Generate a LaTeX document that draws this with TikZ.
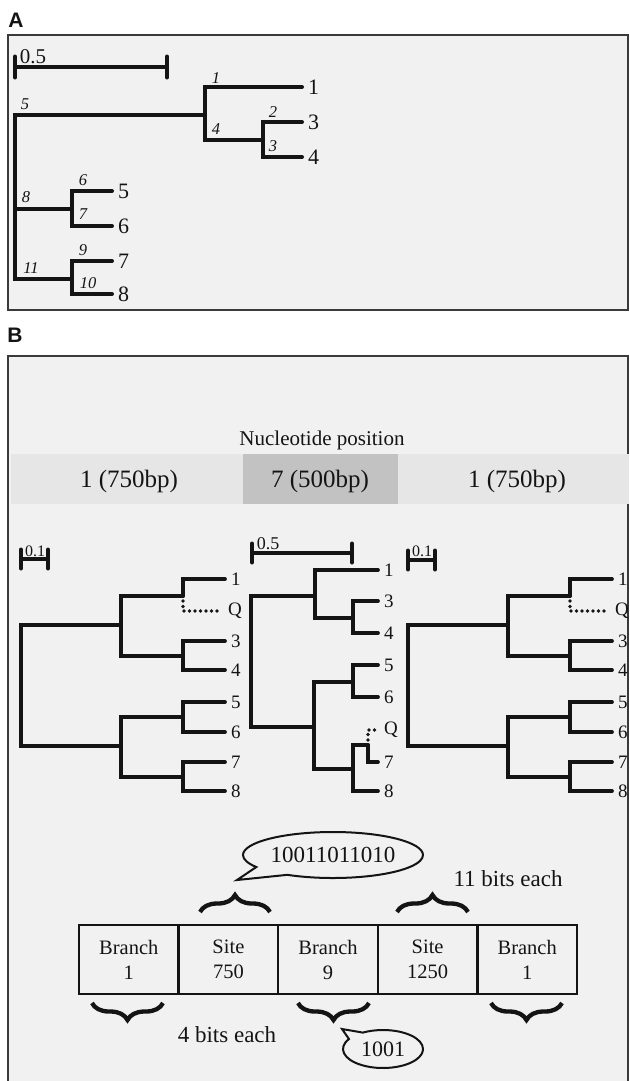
\documentclass[tikz,border=0pt]{standalone}
\usepackage{fontspec}
\setmainfont{Liberation Serif}
\newfontfamily\labsans{Liberation Sans}
\usetikzlibrary{shapes.callouts,shapes.geometric,decorations.pathreplacing}
\definecolor{bgc}{HTML}{F1F1F1}
\definecolor{frc}{HTML}{3A3A3A}
\definecolor{bandl}{HTML}{E6E6E6}
\definecolor{bandd}{HTML}{C2C2C2}
\definecolor{ink}{HTML}{141414}
\tikzset{
  frame/.style={fill=bgc, draw=frc, line width=2pt},
  tra/.style={draw=ink, line width=4pt, line cap=round, line join=miter},
  trb/.style={draw=ink, line width=3.7pt, line cap=round, line join=miter},
  dotq/.style={draw=ink, line width=3.7pt, line cap=round, dash pattern=on 0pt off 5.5pt},
  tick/.style={draw=ink, line width=4pt, line cap=round},
  leafA/.style={anchor=west, inner sep=0pt, text=ink, font=\fontsize{22}{22}\selectfont},
  leafB/.style={anchor=west, inner sep=0pt, text=ink, font=\fontsize{19}{19}\selectfont},
  brl/.style={inner sep=0pt, text=ink, font=\fontsize{16.5}{16.5}\selectfont\itshape},
  panel/.style={inner sep=0pt, text=ink, font=\labsans\bfseries\fontsize{21}{21}\selectfont},
  band/.style={inner sep=0pt, text=ink, font=\fontsize{25}{25}\selectfont},
  cell/.style={draw=ink, line width=2.5pt, minimum width=99.6pt, minimum height=69pt, inner sep=0pt, align=center, text=ink, font=\fontsize{20.5}{25}\selectfont},
  bigtxt/.style={inner sep=0pt, text=ink, font=\fontsize{23}{23}\selectfont},
  brc/.style={draw=ink, line width=4.3pt, decorate, decoration={brace, amplitude=17pt}},
  bubble/.style={ellipse callout, draw=ink, line width=2pt, fill=bgc, inner sep=1pt, text=ink, font=\fontsize{23}{23}\selectfont}
}
\newcommand\tleaf[4]{\coordinate (#1) at (#2); \node[#3] (#1l) at ([xshift=6pt]#1) {#4};}
\begin{document}
\begin{tikzpicture}[x=1pt,y=-1pt]
\useasboundingbox (0,0) rectangle (629,1081);
\clip (0,0) rectangle (629,1081);
\fill[white] (0,0) rectangle (629,1081);
% frames
\draw[frame] (8,35) rectangle (628,310);
\draw[frame] (8,356) rectangle (628,1090);
\node[panel] (pA) at (16,20) {A};
\node[panel] (pB) at (15,335) {B};

% ---------------- Panel A ----------------
\coordinate (sA1) at (15,67); \coordinate (sA2) at (167,67);
\draw[tra] (sA1) -- (sA2);
\draw[tick] ([yshift=10.5pt]sA1) -- ([yshift=-10.5pt]sA1);
\draw[tick] ([yshift=10.5pt]sA2) -- ([yshift=-10.5pt]sA2);
\node[inner sep=0pt, text=ink, font=\fontsize{21}{21}\selectfont] (sAl) at (33,57) {0.5};

\coordinate (Ar) at (15,209);
\coordinate (An1) at (205,115);
\coordinate (An2) at (263,140);
\coordinate (An3) at (72,209);
\coordinate (An4) at (72,279);
\tleaf{a1}{302,87}{leafA}{1}
\tleaf{a3}{302,122}{leafA}{3}
\tleaf{a4}{302,157}{leafA}{4}
\tleaf{a5}{112,191}{leafA}{5}
\tleaf{a6}{112,226}{leafA}{6}
\tleaf{a7}{112,261}{leafA}{7}
\tleaf{a8}{112,294}{leafA}{8}
\draw[tra] (Ar) |- (An1);
\draw[tra] (Ar) |- (An3);
\draw[tra] (Ar) |- (An4);
\draw[tra] (An1) |- (a1);
\draw[tra] (An1) |- (An2);
\draw[tra] (An2) |- (a3);
\draw[tra] (An2) |- (a4);
\draw[tra] (An3) |- (a5);
\draw[tra] (An3) |- (a6);
\draw[tra] (An4) |- (a7);
\draw[tra] (An4) |- (a8);
% branch numbers
\node[brl] (b1) at (216,78) {1};
\node[brl] (b5) at (25,104) {5};
\node[brl] (b4) at (216,129) {4};
\node[brl] (b2) at (273,112) {2};
\node[brl] (b3) at (273,146) {3};
\node[brl] (b6) at (83,180) {6};
\node[brl] (b8) at (26,197) {8};
\node[brl] (b7) at (83,214) {7};
\node[brl] (b9) at (83,250) {9};
\node[brl] (b11) at (31,268) {11};
\node[brl] (b10) at (88,283) {10};

% ---------------- Panel B ----------------
\node[inner sep=0pt, text=ink, font=\fontsize{21}{21}\selectfont] (np) at (322,440) {Nucleotide position};
\fill[bandl] (11,454) rectangle (629,504);
\fill[bandd] (243,454) rectangle (398,504);
\node[band] (s1) at (129,481) {1 (750bp)};
\node[band] (s2) at (320,481) {7 (500bp)};
\node[band] (s3) at (517,481) {1 (750bp)};

% scale bars
\coordinate (sL1) at (21,559); \coordinate (sL2) at (48,559);
\draw[trb] (sL1) -- (sL2);
\draw[tick] ([yshift=9.5pt]sL1) -- ([yshift=-9.5pt]sL1);
\draw[tick] ([yshift=9.5pt]sL2) -- ([yshift=-9.5pt]sL2);
\node[inner sep=0pt, text=ink, font=\fontsize{16}{16}\selectfont] (sLl) at (35,551) {0.1};
\coordinate (sM1) at (252,553); \coordinate (sM2) at (352,553);
\draw[trb] (sM1) -- (sM2);
\draw[tick] ([yshift=9.5pt]sM1) -- ([yshift=-9.5pt]sM1);
\draw[tick] ([yshift=9.5pt]sM2) -- ([yshift=-9.5pt]sM2);
\node[inner sep=0pt, text=ink, font=\fontsize{18}{18}\selectfont] (sMl) at (268,544) {0.5};
\coordinate (sR1) at (408,560); \coordinate (sR2) at (435,560);
\draw[trb] (sR1) -- (sR2);
\draw[tick] ([yshift=9.5pt]sR1) -- ([yshift=-9.5pt]sR1);
\draw[tick] ([yshift=9.5pt]sR2) -- ([yshift=-9.5pt]sR2);
\node[inner sep=0pt, text=ink, font=\fontsize{16}{16}\selectfont] (sRl) at (422,551) {0.1};

% left tree
\coordinate (Lr) at (21,685);
\coordinate (Ln1) at (121,625);
\coordinate (Ln2) at (183,596);
\coordinate (Ln3) at (183,656);
\coordinate (Ln5) at (121,746);
\coordinate (Ln6) at (183,717);
\coordinate (Ln7) at (183,777);
\tleaf{l1}{225,579}{leafB}{1}
\tleaf{lq}{222,611}{leafB}{Q}
\tleaf{l3}{225,641}{leafB}{3}
\tleaf{l4}{225,670}{leafB}{4}
\tleaf{l5}{225,702}{leafB}{5}
\tleaf{l6}{225,732}{leafB}{6}
\tleaf{l7}{225,762}{leafB}{7}
\tleaf{l8}{225,791}{leafB}{8}
\draw[trb] (Lr) |- (Ln1);
\draw[trb] (Lr) |- (Ln5);
\draw[trb] (Ln1) |- (Ln2);
\draw[trb] (Ln1) |- (Ln3);
\draw[trb] (Ln2) |- (l1);
\draw[dotq] ([yshift=-5pt]Ln2) |- (lq);
\draw[trb] (Ln3) |- (l3);
\draw[trb] (Ln3) |- (l4);
\draw[trb] (Ln5) |- (Ln6);
\draw[trb] (Ln5) |- (Ln7);
\draw[trb] (Ln6) |- (l5);
\draw[trb] (Ln6) |- (l6);
\draw[trb] (Ln7) |- (l7);
\draw[trb] (Ln7) |- (l8);

% middle tree
\coordinate (Mr) at (251,661);
\coordinate (Mn1) at (315,596);
\coordinate (Mn2) at (353,618);
\coordinate (Mn4) at (314,727);
\coordinate (Mn5) at (353,682);
\coordinate (Mn6) at (353,769);
\coordinate (Mn7) at (368,745);
\tleaf{m1}{378,570}{leafB}{1}
\tleaf{m3}{378,601}{leafB}{3}
\tleaf{m4}{378,633}{leafB}{4}
\tleaf{m5}{378,665}{leafB}{5}
\tleaf{m6}{378,697}{leafB}{6}
\tleaf{mq}{378,730}{leafB}{Q}
\tleaf{m7}{378,762}{leafB}{7}
\tleaf{m8}{378,791}{leafB}{8}
\draw[trb] (Mr) |- (Mn1);
\draw[trb] (Mr) |- (Mn4);
\draw[trb] (Mn1) |- (m1);
\draw[trb] (Mn1) |- (Mn2);
\draw[trb] (Mn2) |- (m3);
\draw[trb] (Mn2) |- (m4);
\draw[trb] (Mn4) |- (Mn5);
\draw[trb] (Mn4) |- (Mn6);
\draw[trb] (Mn5) |- (m5);
\draw[trb] (Mn5) |- (m6);
\draw[trb] (Mn6) |- (Mn7);
\draw[trb] (Mn6) |- (m8);
\draw[trb] (Mn7) |- (m7);
\draw[dotq] ([yshift=5pt]Mn7) |- ([xshift=-2pt]mq);

% right tree
\coordinate (Rr) at (408,685);
\coordinate (Rn1) at (508,625);
\coordinate (Rn2) at (570,596);
\coordinate (Rn3) at (570,656);
\coordinate (Rn5) at (508,746);
\coordinate (Rn6) at (570,717);
\coordinate (Rn7) at (570,777);
\tleaf{r1}{612,579}{leafB}{1}
\tleaf{rq}{609,611}{leafB}{Q}
\tleaf{r3}{612,641}{leafB}{3}
\tleaf{r4}{612,670}{leafB}{4}
\tleaf{r5}{612,702}{leafB}{5}
\tleaf{r6}{612,732}{leafB}{6}
\tleaf{r7}{612,762}{leafB}{7}
\tleaf{r8}{612,791}{leafB}{8}
\draw[trb] (Rr) |- (Rn1);
\draw[trb] (Rr) |- (Rn5);
\draw[trb] (Rn1) |- (Rn2);
\draw[trb] (Rn1) |- (Rn3);
\draw[trb] (Rn2) |- (r1);
\draw[dotq] ([yshift=-5pt]Rn2) |- (rq);
\draw[trb] (Rn3) |- (r3);
\draw[trb] (Rn3) |- (r4);
\draw[trb] (Rn5) |- (Rn6);
\draw[trb] (Rn5) |- (Rn7);
\draw[trb] (Rn6) |- (r5);
\draw[trb] (Rn6) |- (r6);
\draw[trb] (Rn7) |- (r7);
\draw[trb] (Rn7) |- (r8);

% ---------------- bit layout ----------------
\node[cell] (c1) at (128.8,959.5) {Branch\\1};
\node[cell] (c2) at (228.4,959.5) {Site\\750};
\node[cell] (c3) at (328,959.5) {Branch\\9};
\node[cell] (c4) at (427.6,959.5) {Site\\1250};
\node[cell] (c5) at (527.2,959.5) {Branch\\1};

\draw[brc] (200,912) -- (270,912);
\draw[brc] (397,912) -- (468,912);
\draw[brc] (163,1003) -- (92,1003);
\draw[brc] (369,1003) -- (298,1003);
\draw[brc] (562,1003) -- (491,1003);

\node[bigtxt] (t11) at (508,879) {11 bits each};
\node[bigtxt] (t4) at (227,1035) {4 bits each};

\node[bubble, minimum width=180pt, minimum height=46pt, callout pointer arc=28, callout absolute pointer={(237,880)}] (bub1) at (333,855) {10011011010};
\node[bubble, minimum width=80pt, minimum height=38pt, callout pointer arc=28, callout absolute pointer={(342,1029)}, font=\fontsize{22}{22}\selectfont] (bub2) at (383,1049) {1001};
\end{tikzpicture}
\end{document}
